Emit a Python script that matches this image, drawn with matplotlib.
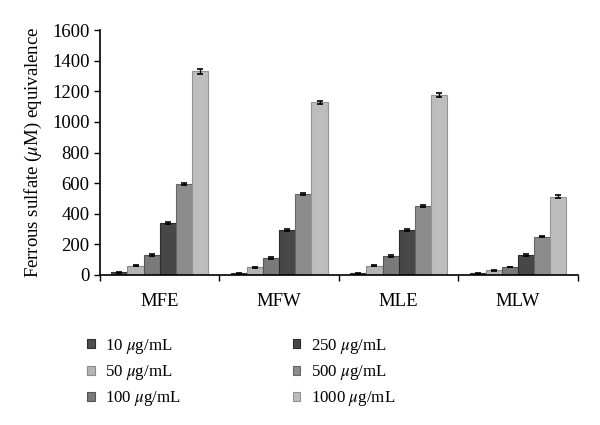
import matplotlib.pyplot as plt
import numpy as np

# extracts and concentrations
extracts = ['MFE', 'MFW', 'MLE', 'MLW']
conc_labels = ['10 $\\mu$g/mL', '50 $\\mu$g/mL', '100 $\\mu$g/mL',
               '250 $\\mu$g/mL', '500 $\\mu$g/mL', '1000 $\\mu$g/mL']

# values per concentration (MFE, MFW, MLE, MLW)
v10 = [17, 11, 11, 11]
v50 = [61, 50, 61, 30]
v100 = [130, 111, 124, 52]
v250 = [340, 294, 294, 131]
v500 = [592, 530, 451, 250]
v1000 = [1330, 1128, 1178, 512]

# error bars
e10 = [3, 2, 2, 2]
e50 = [4, 3, 3, 3]
e100 = [5, 4, 4, 3]
e250 = [5, 5, 5, 4]
e500 = [6, 6, 5, 5]
e1000 = [14, 12, 12, 8]

series = [v10, v50, v100, v250, v500, v1000]
errors = [e10, e50, e100, e250, e500, e1000]
colors = ['#4f4f4f', '#b4b4b4', '#7a7a7a', '#474747', '#8c8c8c', '#bdbdbd']
edges = ['#303030', '#8a8a8a', '#555555', '#2c2c2c', '#666666', '#949494']

plt.rcParams['font.family'] = ['Liberation Serif', 'DejaVu Serif']
plt.rcParams['mathtext.fontset'] = 'stix'

fig = plt.figure(figsize=(6, 4.25), dpi=100)
ax = fig.add_axes([0.1667, 0.353, 0.7963, 0.576])

x = np.arange(len(extracts))
w = 0.135
for i, (vals, errs) in enumerate(zip(series, errors)):
    pos = x + (i - 2.5) * w
    ax.bar(pos, vals, w, color=colors[i], edgecolor=edges[i], linewidth=0.8,
           label=conc_labels[i], zorder=2)
    ax.errorbar(pos, vals, yerr=errs, fmt='none', ecolor='black',
                elinewidth=1.0, capsize=2.2, capthick=1.2, zorder=3)

ax.set_xlim(-0.5, 3.5)
ax.set_ylim(0, 1600)
ax.set_yticks(range(0, 1601, 200))
ax.set_xticks(x)
ax.set_xticklabels(extracts)
ax.set_xticks([-0.5, 0.5, 1.5, 2.5, 3.5], minor=True)
ax.tick_params(axis='x', which='major', length=0, pad=13, labelsize=13.5)
ax.tick_params(axis='x', which='minor', length=4, direction='out', width=1)
ax.tick_params(axis='y', length=4, width=1, labelsize=13.5)
ax.spines['top'].set_visible(False)
ax.spines['right'].set_visible(False)
ax.spines['left'].set_linewidth(1.2)
ax.spines['bottom'].set_linewidth(1.2)
ax.set_ylabel('Ferrous sulfate ($\\mu$M) equivalence', fontsize=13.5, labelpad=6)

fig.legend(loc='upper left', bbox_to_anchor=(0.12, 0.243), ncol=2,
           frameon=False, fontsize=12.2, handlelength=0.45, handleheight=0.45,
           handletextpad=0.6, columnspacing=6.6, labelspacing=0.42)

plt.savefig('out.png', dpi=100)
